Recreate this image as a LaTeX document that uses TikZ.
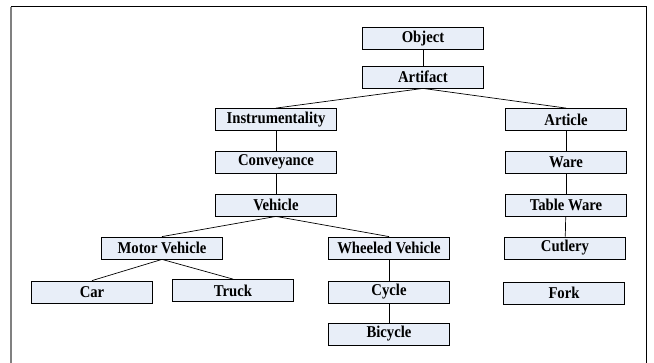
\documentclass[tikz,border=0pt]{standalone}
\usepackage{fontspec}
\usepackage{graphicx}
\setmainfont{Liberation Serif}
\usetikzlibrary{shadows}
\definecolor{boxfill}{RGB}{232,238,248}
\newcommand{\sqz}[1]{\scalebox{0.89}[1]{#1}}
\begin{document}
\begin{tikzpicture}[x=1pt,y=-1pt,
  cbox/.style={draw=black, line width=0.8pt, fill=boxfill, minimum width=121pt, minimum height=22pt, inner sep=0pt,
    font=\fontsize{16.5}{18}\selectfont\bfseries,
    drop shadow={shadow xshift=0.8pt, shadow yshift=-0.8pt, fill=gray!70, opacity=1}},
  link/.style={draw=black, line width=0.7pt}]
\useasboundingbox (0,0) rectangle (654,363);
% frame
\coordinate (fl) at (11,363);
\coordinate (ftl) at (11,7);
\coordinate (ftr) at (646,7);
\coordinate (fr) at (646,363);
\draw[gray, line width=1.6pt] (fl) -- (ftl);
\draw[black, line width=1pt] (ftl) -- (ftr) -- (fr);
% nodes
\node[cbox] (obj) at (423,38.5) {\sqz{Object}};
\node[cbox] (art) at (423,77) {\sqz{Artifact}};
\node[cbox] (ins) at (276,119.5) {\sqz{Instrumentality}};
\node[cbox] (arc) at (566,119.5) {\sqz{Article}};
\node[cbox] (con) at (276,162) {\sqz{Conveyance}};
\node[cbox] (war) at (566,162) {\sqz{Ware}};
\node[cbox] (veh) at (276,205) {\sqz{Vehicle}};
\node[cbox] (tab) at (566,205) {\sqz{Table Ware}};
\node[cbox] (mot) at (162,248) {\sqz{Motor Vehicle}};
\node[cbox] (whe) at (389,248) {\sqz{Wheeled Vehicle}};
\node[cbox] (cut) at (565,248) {\sqz{Cutlery}};
\node[cbox] (car) at (92,292) {\sqz{Car}};
\node[cbox] (tru) at (233,290.5) {\sqz{Truck}};
\node[cbox] (cyc) at (389,292) {\sqz{Cycle}};
\node[cbox] (frk) at (564,293) {\sqz{Fork}};
\node[cbox] (bic) at (389,334) {\sqz{Bicycle}};
% links
\draw[link] (obj) -- (art);
\draw[link] (art.south) -- (ins.north);
\draw[link] (art.south) -- (arc.north);
\draw[link] (ins) -- (con);
\draw[link] (con) -- (veh);
\draw[link] (veh.south) -- (mot.north);
\draw[link] (veh.south) -- (whe.north);
\draw[link] (mot.south) -- (car.north);
\draw[link] (mot.south) -- (tru.north);
\draw[link] (whe) -- (cyc);
\draw[link] (cyc) -- (bic);
\draw[link] (arc) -- (war);
\draw[link] (war) -- (tab);
\draw[link] (tab) -- (cut);
\end{tikzpicture}
\end{document}
